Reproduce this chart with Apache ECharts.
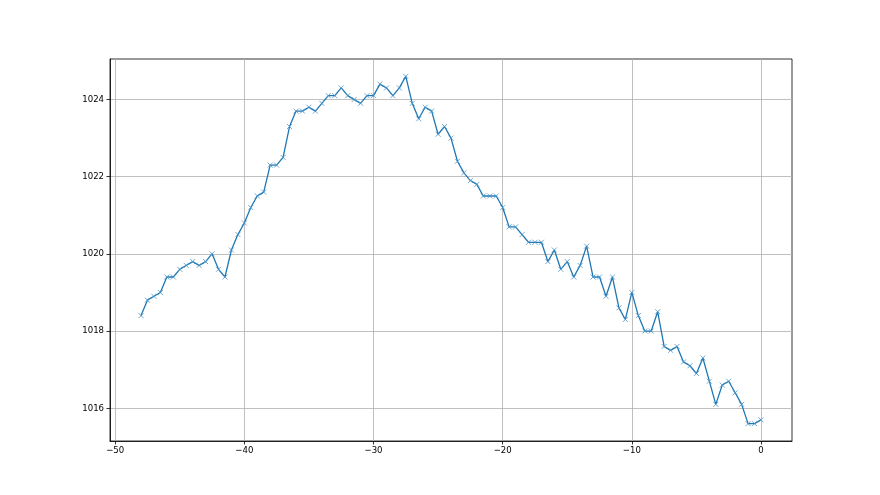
<!DOCTYPE html>
<html>
<head>
<meta charset="utf-8">
<script src="https://cdn.jsdelivr.net/npm/echarts@6/dist/echarts.min.js"></script>
<style>html,body{margin:0;padding:0;background:#fff}#c{width:880px;height:495px}</style>
</head>
<body>
<div id="c"></div>
<script>
const xValues = [-48,-47.5,-47,-46.5,-46,-45.5,-45,-44.5,-44,-43.5,-43,-42.5,-42,-41.5,-41,-40.5,-40,-39.5,-39,-38.5,-38,-37.5,-37,-36.5,-36,-35.5,-35,-34.5,-34,-33.5,-33,-32.5,-32,-31.5,-31,-30.5,-30,-29.5,-29,-28.5,-28,-27.5,-27,-26.5,-26,-25.5,-25,-24.5,-24,-23.5,-23,-22.5,-22,-21.5,-21,-20.5,-20,-19.5,-19,-18.5,-18,-17.5,-17,-16.5,-16,-15.5,-15,-14.5,-14,-13.5,-13,-12.5,-12,-11.5,-11,-10.5,-10,-9.5,-9,-8.5,-8,-7.5,-7,-6.5,-6,-5.5,-5,-4.5,-4,-3.5,-3,-2.5,-2,-1.5,-1,-0.5,0];
const pressure = [1018.4,1018.8,1018.9,1019.0,1019.4,1019.4,1019.6,1019.7,1019.8,1019.7,1019.8,1020.0,1019.6,1019.4,1020.1,1020.5,1020.8,1021.2,1021.5,1021.6,1022.3,1022.3,1022.5,1023.3,1023.7,1023.7,1023.8,1023.7,1023.9,1024.1,1024.1,1024.3,1024.1,1024.0,1023.9,1024.1,1024.1,1024.4,1024.3,1024.1,1024.3,1024.6,1023.9,1023.5,1023.8,1023.7,1023.1,1023.3,1023.0,1022.4,1022.1,1021.9,1021.8,1021.5,1021.5,1021.5,1021.2,1020.7,1020.7,1020.5,1020.3,1020.3,1020.3,1019.8,1020.1,1019.6,1019.8,1019.4,1019.7,1020.2,1019.4,1019.4,1018.9,1019.4,1018.6,1018.3,1019.0,1018.4,1018.0,1018.0,1018.5,1017.6,1017.5,1017.6,1017.2,1017.1,1016.9,1017.3,1016.7,1016.1,1016.6,1016.7,1016.4,1016.1,1015.6,1015.6,1015.7];
const xTicks = [-50,-40,-30,-20,-10,0];
const yTicks = [1016,1018,1020,1022,1024];

const chart = echarts.init(document.getElementById('c'), null, {renderer:'canvas'});
const fmt = v => String(v).replace('-', '\u2212');
const labelStyle = {color:'#000', fontSize:9.5, fontFamily:'DejaVu Sans Condensed, DejaVu Sans'};
chart.setOption({
  animation:false,
  backgroundColor:'#fff',
  grid:{left:110, right:88, top:59, bottom:54, show:true, borderColor:'#000', borderWidth:0.8, backgroundColor:'transparent'},
  xAxis:{
    type:'value', min:-50.4, max:2.4,
    axisLine:{show:true, onZero:false, lineStyle:{color:'#000', width:0.8}},
    axisTick:{show:true, length:3.5, customValues:xTicks, lineStyle:{color:'#000', width:0.8}},
    axisLabel:Object.assign({customValues:xTicks, margin:5, formatter:fmt, showMinLabel:true, showMaxLabel:true}, labelStyle),
    splitLine:{show:true, lineStyle:{color:'#b0b0b0', width:0.8}}
  },
  yAxis:{
    type:'value', min:1015.15, max:1025.05,
    axisLine:{show:true, onZero:false, lineStyle:{color:'#000', width:0.8}},
    axisTick:{show:true, length:3.5, customValues:yTicks, lineStyle:{color:'#000', width:0.8}},
    axisLabel:Object.assign({customValues:yTicks, margin:6, formatter:fmt}, labelStyle),
    splitLine:{show:true, lineStyle:{color:'#b0b0b0', width:0.8}}
  },
  series:[{
    type:'line',
    data:xValues.map((x,i)=>[x, pressure[i]]),
    symbol:'path://M0,0L10,10M10,0L0,10',
    symbolSize:5,
    showAllSymbol:true,
    lineStyle:{color:'#1f77b4', width:1.3},
    itemStyle:{color:'#1f77b4', borderColor:'#4a93c8', borderWidth:0.8}
  }]
});
</script>
</body>
</html>
